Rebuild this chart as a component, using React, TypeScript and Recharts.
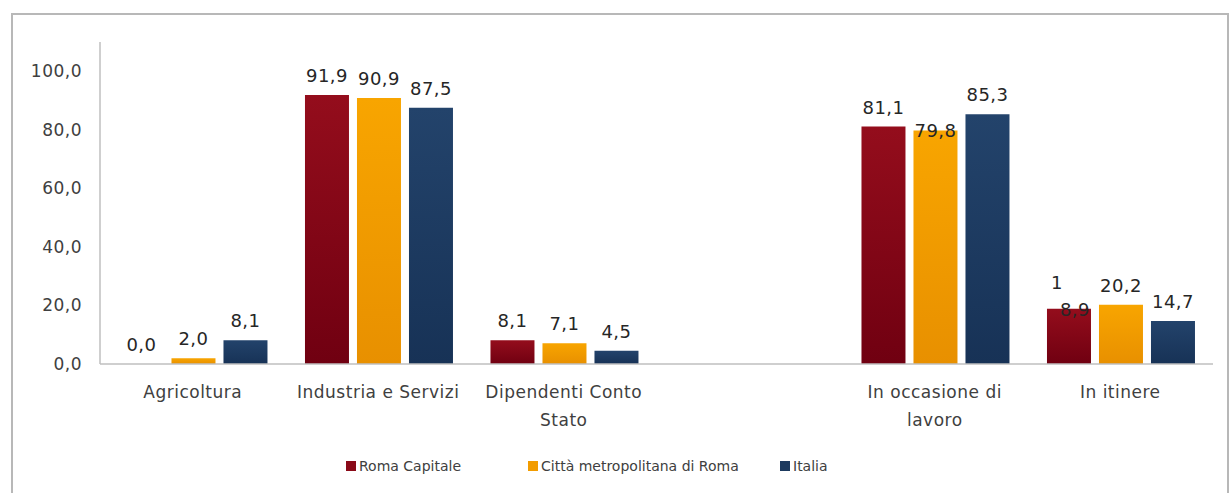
import React from 'react';
import { BarChart, Bar, XAxis, YAxis, Legend, LabelList } from 'recharts';

const categories = ['Agricoltura', 'Industria e Servizi', 'Dipendenti Conto Stato', '', 'In occasione di lavoro', 'In itinere'];
const romaCapitale = [0.0, 91.9, 8.1, null, 81.1, 18.9];
const cittaMetropolitana = [2.0, 90.9, 7.1, null, 79.8, 20.2];
const italia = [8.1, 87.5, 4.5, null, 85.3, 14.7];
const yTicks = [0, 20, 40, 60, 80, 100];

const seriesNames = ['Roma Capitale', 'Città metropolitana di Roma', 'Italia'];
const seriesKeys = ['roma', 'citta', 'italia'];
const seriesColors = [
  { top: '#940d1c', bottom: '#700011', legend: '#8a0a18' },
  { top: '#f8a500', bottom: '#e89000', legend: '#f29c00' },
  { top: '#23436b', bottom: '#173256', legend: '#1d3a5f' },
];

const data = categories.map((c, i) => ({
  name: c,
  roma: romaCapitale[i],
  citta: cittaMetropolitana[i],
  italia: italia[i],
}));

const FONT = '"DejaVu Sans", sans-serif';
const fmt = (v: number) => v.toFixed(1).replace('.', ',');

const wrapLabel = (s: string, maxChars = 19) => {
  const words = s.split(' ');
  const lines: string[] = [];
  let cur = '';
  for (const w of words) {
    const t = cur ? cur + ' ' + w : w;
    if (t.length > maxChars && cur) {
      lines.push(cur);
      cur = w;
    } else cur = t;
  }
  if (cur) lines.push(cur);
  return lines;
};

const CategoryTick = (props: any) => {
  const { x, y, payload } = props;
  const lines = wrapLabel(String(payload.value || ''));
  return (
    <text x={x} y={y} textAnchor="middle" fill="#404040" fontSize={17} fontFamily={FONT} letterSpacing={0.5}>
      {lines.map((l, i) => (
        <tspan key={i} x={x} dy={i === 0 ? 34 : 28}>{l}</tspan>
      ))}
    </text>
  );
};

const makeLabel = (seriesKey: string) => (props: any) => {
  const { x, y, width, height, value } = props;
  if (value === null || value === undefined) return null;
  const [cat, raw] = String(value).split('|');
  if (raw === '' || raw === 'null' || raw === 'undefined') return null;
  const num = Number(raw);
  const cx = Number(x) + Number(width) / 2;
  const ty = Number(height) < 0 ? Number(y) + Number(height) : Number(y);
  const common = { fill: '#262626', fontSize: 18, fontFamily: FONT, letterSpacing: 0.5 };
  if (seriesKey === 'citta' && cat === 'In occasione di lavoro') {
    return <text x={cx} y={ty + 7} textAnchor="middle" {...common}>{fmt(num)}</text>;
  }
  if (seriesKey === 'roma' && cat === 'In itinere') {
    const s = fmt(num);
    return (
      <text {...common}>
        <tspan x={cx - 18} y={ty - 20} textAnchor="start">{s.slice(0, 1)}</tspan>
        <tspan x={cx + 6} y={ty + 7} textAnchor="middle">{s.slice(1)}</tspan>
      </text>
    );
  }
  return <text x={cx} y={ty - 13} textAnchor="middle" {...common}>{fmt(num)}</text>;
};

const LegendContent = () => {
  const widths = [182, 252, 80];
  return (
    <div style={{ display: 'flex', paddingLeft: 346, fontFamily: FONT, fontSize: 14, color: '#404040' }}>
      {seriesNames.map((n, i) => (
        <div key={n} style={{ width: widths[i], display: 'flex', alignItems: 'center', whiteSpace: 'nowrap' }}>
          <span style={{ display: 'inline-block', width: 10, height: 10, background: seriesColors[i].legend, marginRight: 3 }} />
          <span>{n}</span>
        </div>
      ))}
    </div>
  );
};

export default function App() {
  return (
    <div style={{ position: 'absolute', left: 0, top: 0, width: 1230, height: 493, overflow: 'hidden', background: '#fff' }}>
      <div style={{ position: 'absolute', left: 11, top: 13, width: 1218, height: 500, border: '2px solid #b8b8b8', boxSizing: 'border-box' }} />
      <div style={{ position: 'absolute', left: 0, top: 0 }}>
        <BarChart
          width={1230}
          height={493}
          data={data}
          margin={{ top: 42, right: 17, left: 0, bottom: 59 }}
          barCategoryGap="10.5%"
          barGap={8}
        >
          <defs>
            {seriesColors.map((c, i) => (
              <linearGradient key={i} id={`grad${i}`} x1="0" y1="0" x2="0" y2="1">
                <stop offset="0%" stopColor={c.top} />
                <stop offset="100%" stopColor={c.bottom} />
              </linearGradient>
            ))}
          </defs>
          <XAxis
            dataKey="name"
            height={70}
            tickLine={false}
            tickSize={0}
            tickMargin={0}
            axisLine={{ stroke: '#bfbfbf', strokeWidth: 1.5 }}
            tick={<CategoryTick />}
            interval={0}
          />
          <YAxis
            width={100}
            domain={[0, 110]}
            ticks={yTicks}
            tickFormatter={(v: number) => fmt(v)}
            tickLine={false}
            tickSize={0}
            tickMargin={18}
            axisLine={{ stroke: '#bfbfbf', strokeWidth: 1.5 }}
            tick={{ fill: '#404040', fontSize: 17, fontFamily: FONT, letterSpacing: 0.5 }}
          />
          <Legend
            layout="horizontal"
            verticalAlign="middle"
            align="center"
            wrapperStyle={{ top: 458, left: 0, width: 1230 }}
            content={<LegendContent />}
          />
          {seriesKeys.map((k, i) => (
            <Bar
              key={k}
              dataKey={k}
              name={seriesNames[i]}
              fill={`url(#grad${i})`}
              isAnimationActive={false}
              minPointSize={(v: any) => (v === 0 ? 0.01 : 0)}
            >
              <LabelList
                dataKey={(entry: any) => `${entry.name}|${entry[k] === null ? '' : entry[k]}`}
                content={makeLabel(k)}
              />
            </Bar>
          ))}
        </BarChart>
      </div>
    </div>
  );
}
